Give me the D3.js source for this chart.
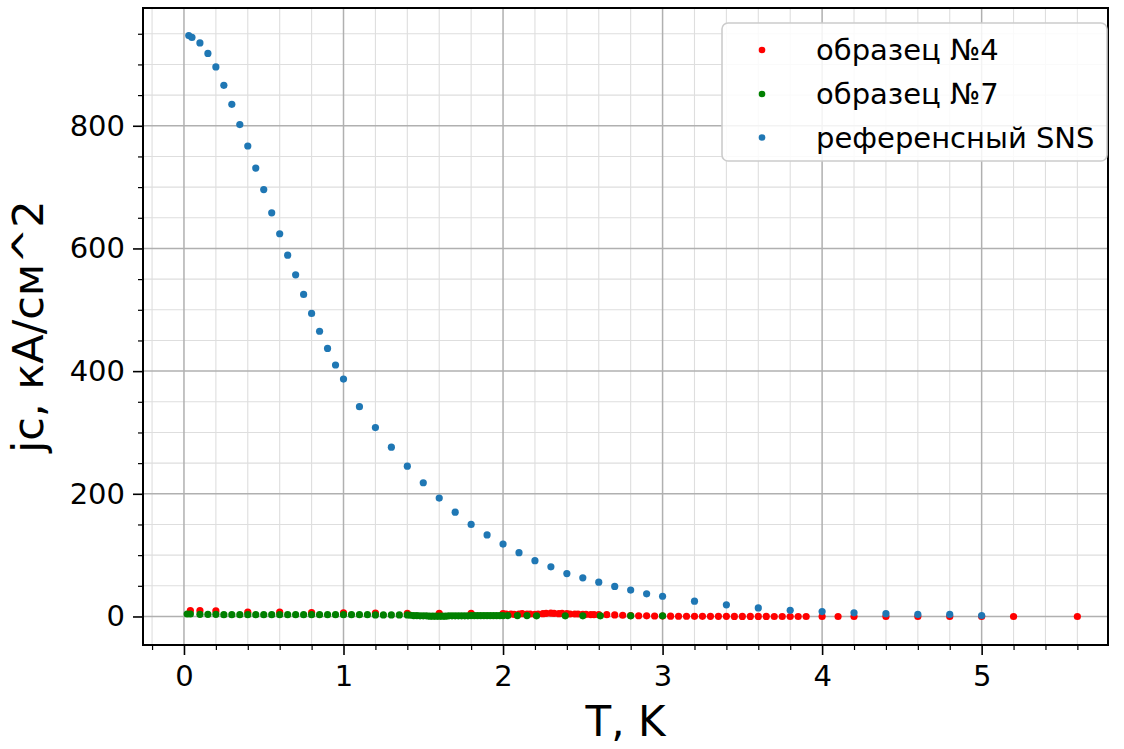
<!DOCTYPE html>
<html>
<head>
<meta charset="utf-8">
<script src="https://cdn.jsdelivr.net/npm/d3@7"></script>
<style>
  body { margin: 0; background: #fff; }
  text { font-family: "DejaVu Sans", sans-serif; }
</style>
</head>
<body>
<div id="chart"></div>
<script>
// образец №4
var t4 = [0.04, 0.1, 0.2, 0.4, 0.6, 0.8, 1.0, 1.2, 1.4, 1.6, 1.8, 2.0,
  2.02, 2.05, 2.07, 2.1, 2.12, 2.15, 2.17, 2.2, 2.22, 2.25, 2.27, 2.3, 2.32, 2.35, 2.37, 2.4,
  2.42, 2.45, 2.47, 2.5, 2.52, 2.55, 2.57, 2.6,
  2.65, 2.7, 2.75, 2.8, 2.85, 2.9, 2.95, 3.0, 3.05, 3.1, 3.15, 3.2, 3.25, 3.3, 3.35, 3.4,
  3.45, 3.5, 3.55, 3.6, 3.65, 3.7, 3.75, 3.8, 3.85, 3.9, 4.0, 4.1, 4.2, 4.4, 4.6, 4.8, 5.0, 5.2, 5.6];
var j4 = [9.5, 9.5, 9, 7, 7, 6.5, 6, 5.5, 5, 5, 5, 4.5,
  4, 4, 3.5, 4, 4.5, 4, 4, 3.5, 4, 4.5, 5, 5.5, 5, 4.5, 5, 4.5,
  4, 4, 4, 3.5, 3.5, 3, 3, 3,
  3, 2.5, 2, 1.5, 1.2, 1, 0.8, 0.6, 0.5, 0.4, 0.4, 0.3, 0.3, 0.2, 0.2, 0.2,
  0.1, 0.1, 0.1, 0.1, 0.1, 0, 0, 0, 0, 0, 0, 0, 0, 0, 0, 0, 0, 0, 0];

// образец №7
var t7 = [0.02, 0.04, 0.1, 0.15, 0.2, 0.25, 0.3, 0.35, 0.4, 0.45, 0.5, 0.55, 0.6, 0.65, 0.7,
  0.75, 0.8, 0.85, 0.9, 0.95, 1.0, 1.05, 1.1, 1.15, 1.2, 1.25, 1.3, 1.35, 1.4,
  1.42, 1.44, 1.46, 1.48, 1.5, 1.52, 1.54, 1.56, 1.58, 1.6, 1.62, 1.64, 1.66, 1.68, 1.7,
  1.72, 1.74, 1.76, 1.78, 1.8, 1.82, 1.84, 1.86, 1.88, 1.9, 1.92, 1.94, 1.96, 1.98, 2.0,
  2.03, 2.09, 2.15, 2.21, 2.39, 2.5, 2.61, 2.8, 3.0];
var j7 = [4, 4, 3.5, 3.5, 3.5, 3, 3, 3, 3, 3, 3, 3, 3, 3, 3,
  3, 3, 3, 3, 3, 3, 3, 3, 3, 2.5, 2.5, 2.5, 2.5, 2.5,
  2, 1.5, 1.5, 1, 1, 1, 0.5, 0.5, 0.5, 0.5, 0.5, 0.5, 1, 1, 1,
  1, 1, 1, 1, 1.5, 1.5, 1.5, 1.5, 1.5, 1.5, 1.5, 1.5, 1.5, 1.5, 1.5,
  1.5, 1.5, 1.5, 1, 1, 1, 1, 1, 1];

// референсный SNS
var tS = [0.03, 0.05, 0.1, 0.15, 0.2, 0.25, 0.3, 0.35, 0.4, 0.45, 0.5, 0.55, 0.6, 0.65, 0.7,
  0.75, 0.8, 0.85, 0.9, 0.95, 1.0, 1.1, 1.2, 1.3, 1.4, 1.5, 1.6, 1.7, 1.8, 1.9, 2.0, 2.1,
  2.2, 2.3, 2.4, 2.5, 2.6, 2.7, 2.8, 2.9, 3.0, 3.2, 3.4, 3.6, 3.8, 4.0, 4.2, 4.4, 4.6, 4.8, 5.0];
var jS = [947, 944, 935, 918, 896, 866, 835, 802, 767, 731, 696, 658, 624, 589, 557,
  525, 494, 465, 437, 410, 387, 342, 308, 276, 245, 218, 193, 170, 150, 133, 118, 104,
  91, 81, 70, 63, 56, 49, 43, 37, 33, 25, 19, 14, 10, 8, 6, 4.5, 3.3, 3.3, 1.6];

var seriesNames = ["образец №4", "образец №7", "референсный SNS"];
var seriesColors = ["#ff0000", "#008000", "#1f77b4"];

var xMajor = [0, 1, 2, 3, 4, 5];
var yMajor = [0, 200, 400, 600, 800];

var width = 1124, height = 749;
var pLeft = 143, pRight = 1108, pTop = 8, pBottom = 645;

var x = d3.scaleLinear().domain([-0.2568, 5.792]).range([pLeft, pRight]);
var y = d3.scaleLinear().domain([-46.5, 992]).range([pBottom, pTop]);

var xMinor = d3.range(-0.2, 5.79, 0.2).filter(function(d) { return Math.abs(d - Math.round(d)) > 1e-6; });
var yMinor = d3.range(50, 990, 50).filter(function(d) { return d % 200 != 0; });

var svg = d3.select("#chart").append("svg")
  .attr("width", width)
  .attr("height", height);

// grid
var grid = svg.append("g");
grid.selectAll(".xminor").data(xMinor).enter().append("line")
  .attr("x1", function(d) { return x(d); }).attr("x2", function(d) { return x(d); })
  .attr("y1", pTop).attr("y2", pBottom)
  .attr("stroke", "#dedede").attr("stroke-width", 1.1);
grid.selectAll(".yminor").data(yMinor).enter().append("line")
  .attr("y1", function(d) { return y(d); }).attr("y2", function(d) { return y(d); })
  .attr("x1", pLeft).attr("x2", pRight)
  .attr("stroke", "#dedede").attr("stroke-width", 1.1);
grid.selectAll(".xmajor").data(xMajor).enter().append("line")
  .attr("x1", function(d) { return x(d); }).attr("x2", function(d) { return x(d); })
  .attr("y1", pTop).attr("y2", pBottom)
  .attr("stroke", "#b0b0b0").attr("stroke-width", 1.5);
grid.selectAll(".ymajor").data(yMajor).enter().append("line")
  .attr("y1", function(d) { return y(d); }).attr("y2", function(d) { return y(d); })
  .attr("x1", pLeft).attr("x2", pRight)
  .attr("stroke", "#b0b0b0").attr("stroke-width", 1.5);

// points
var series = [
  t4.map(function(t, i) { return [t, j4[i]]; }),
  t7.map(function(t, i) { return [t, j7[i]]; }),
  tS.map(function(t, i) { return [t, jS[i]]; })
];

series.forEach(function(pts, k) {
  svg.append("g").selectAll("circle")
    .data(pts)
    .enter().append("circle")
    .attr("cx", function(d) { return x(d[0]); })
    .attr("cy", function(d) { return y(d[1]); })
    .attr("r", 3.6)
    .attr("fill", seriesColors[k]);
});

// axes
var xAxis = d3.axisBottom(x).tickValues(xMajor).tickSize(10).tickPadding(10).tickFormat(d3.format("d"));
var xAxisMinor = d3.axisBottom(x).tickValues(xMinor).tickSize(5).tickFormat("");
var yAxis = d3.axisLeft(y).tickValues(yMajor).tickSize(10).tickPadding(8).tickFormat(d3.format("d"));
var yAxisMinor = d3.axisLeft(y).tickValues(yMinor).tickSize(5).tickFormat("");

function styleAxis(g) {
  g.select(".domain").remove();
  g.selectAll(".tick line").attr("stroke", "#000").attr("stroke-width", 1.6);
  g.selectAll(".tick text").attr("fill", "#000").style("font-size", "29px").style("font-family", "DejaVu Sans");
}

svg.append("g").attr("transform", "translate(0," + pBottom + ")").call(xAxisMinor).call(styleAxis)
  .selectAll(".tick line").attr("stroke-width", 1.2);
svg.append("g").attr("transform", "translate(0," + pBottom + ")").call(xAxis).call(styleAxis);
svg.append("g").attr("transform", "translate(" + pLeft + ",0)").call(yAxisMinor).call(styleAxis)
  .selectAll(".tick line").attr("stroke-width", 1.2);
svg.append("g").attr("transform", "translate(" + pLeft + ",0)").call(yAxis).call(styleAxis);

// spines
svg.append("rect")
  .attr("x", pLeft).attr("y", pTop)
  .attr("width", pRight - pLeft).attr("height", pBottom - pTop)
  .attr("fill", "none").attr("stroke", "#000").attr("stroke-width", 2);

// axis labels
svg.append("text")
  .attr("x", (pLeft + pRight) / 2).attr("y", 736)
  .attr("text-anchor", "middle")
  .style("font-size", "42px")
  .text("T, K");

svg.append("text")
  .attr("transform", "translate(43," + (pTop + pBottom) / 2 + ") rotate(-90)")
  .attr("text-anchor", "middle")
  .style("font-size", "43px")
  .text("jc, кА/см^2");

// legend
var legend = svg.append("g");
legend.append("rect")
  .attr("x", 722).attr("y", 23)
  .attr("width", 385).attr("height", 138)
  .attr("rx", 6).attr("ry", 6)
  .attr("fill", "#fff").attr("fill-opacity", 0.85)
  .attr("stroke", "#cccccc").attr("stroke-width", 1.6);

var legendY = [50, 94, 137.5];
seriesNames.forEach(function(name, k) {
  legend.append("circle")
    .attr("cx", 762).attr("cy", legendY[k]).attr("r", 3.3)
    .attr("fill", seriesColors[k]);
  legend.append("text")
    .attr("x", 816).attr("y", legendY[k] + 10)
    .style("font-size", "29px")
    .text(name);
});
</script>
</body>
</html>
